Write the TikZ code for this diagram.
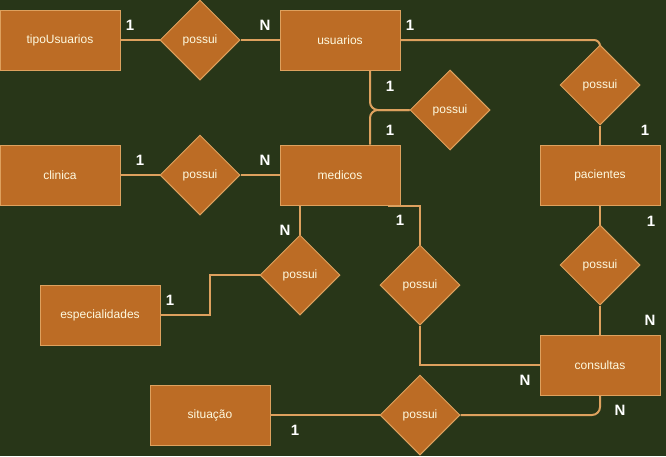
\documentclass[tikz,border=0pt]{standalone}
\usepackage{fontspec}
\setmainfont{Liberation Sans}
\usetikzlibrary{shapes.geometric}
\definecolor{bg}{HTML}{283618}
\definecolor{boxfill}{HTML}{BC6C25}
\definecolor{boxline}{HTML}{DDA15E}
\definecolor{boxtext}{HTML}{FEFAE0}
\tikzset{
  entity/.style={rectangle, draw=boxline, fill=boxfill, line width=1pt, minimum width=120pt, minimum height=60pt, inner sep=0pt, text=boxtext, font=\fontsize{12}{14}\selectfont},
  relation/.style={diamond, draw=boxline, fill=boxfill, line width=1pt, minimum width=80pt, minimum height=80pt, inner sep=0pt, text=boxtext, font=\fontsize{12}{14}\selectfont},
  edge/.style={draw=boxline, line width=2pt},
  card/.style={text=white, font=\fontsize{15}{17}\selectfont\bfseries, inner sep=0pt}
}
\begin{document}
\begin{tikzpicture}[x=1pt,y=-1pt]
\fill[bg] (0,0) rectangle (666,456);
\useasboundingbox (0,0) rectangle (666,456);

% entities
\node[entity] (tipo) at (60,40) {tipoUsuarios};
\node[entity] (usu) at (340,40) {usuarios};
\node[entity] (cli) at (60,175) {clinica};
\node[entity] (med) at (340,175) {medicos};
\node[entity] (pac) at (600,175) {pacientes};
\node[entity] (esp) at (100,315) {especialidades};
\node[entity] (cons) at (600,365) {consultas};
\node[entity] (sit) at (210,415) {situação};

% relations
\node[relation] (p1) at (200,40) {possui};
\node[relation] (p2) at (450,110) {possui};
\node[relation] (p3) at (200,175) {possui};
\node[relation] (p4) at (600,85) {possui};
\node[relation] (p5) at (600,265) {possui};
\node[relation] (p6) at (420,285) {possui};
\node[relation] (p7) at (300,275) {possui};
\node[relation] (p8) at (420,415) {possui};

\coordinate (c7) at (210,0);

% connectors
\begin{scope}[on background layer/.style={}]
\draw[edge] (tipo) -- (p1);
\draw[edge] (p1) -- (usu);
\draw[edge, rounded corners=6pt] (usu.east) -| (p4.north);
\draw[edge] (p4) -- (pac);
\draw[edge, rounded corners=8pt] ([xshift=30pt]usu.south) |- (p2.west);
\draw[edge, rounded corners=8pt] ([xshift=30pt]med.north) |- (p2.west);
\draw[edge] (cli) -- (p3);
\draw[edge] (p3) -- (med);
\draw[edge] ([xshift=-40pt]med.south) -- (p7.north);
\draw[edge] (p7.west) -| (c7 |- esp.east) -- (esp.east);
\draw[edge] ([xshift=48pt]med.south) -| (p6.north);
\draw[edge] (p6.south) |- (cons.west);
\draw[edge] (pac) -- (p5);
\draw[edge] (p5) -- (cons);
\draw[edge] (sit) -- (p8);
\draw[edge, rounded corners=8pt] (p8.east) -| (cons.south);
\end{scope}

% cardinalities
\node[card] (k1) at (130,25) {1};
\node[card] (k2) at (265,25) {N};
\node[card] (k3) at (410,25) {1};
\node[card] (k4) at (390,86) {1};
\node[card] (k5) at (390,130) {1};
\node[card] (k6) at (645,130) {1};
\node[card] (k7) at (140,160) {1};
\node[card] (k8) at (265,160) {N};
\node[card] (k9) at (400,220) {1};
\node[card] (k10) at (651,221) {1};
\node[card] (k11) at (285,230) {N};
\node[card] (k12) at (170,300) {1};
\node[card] (k13) at (650,320) {N};
\node[card] (k14) at (525,380) {N};
\node[card] (k15) at (620,410) {N};
\node[card] (k16) at (295,430) {1};
\end{tikzpicture}
\end{document}
